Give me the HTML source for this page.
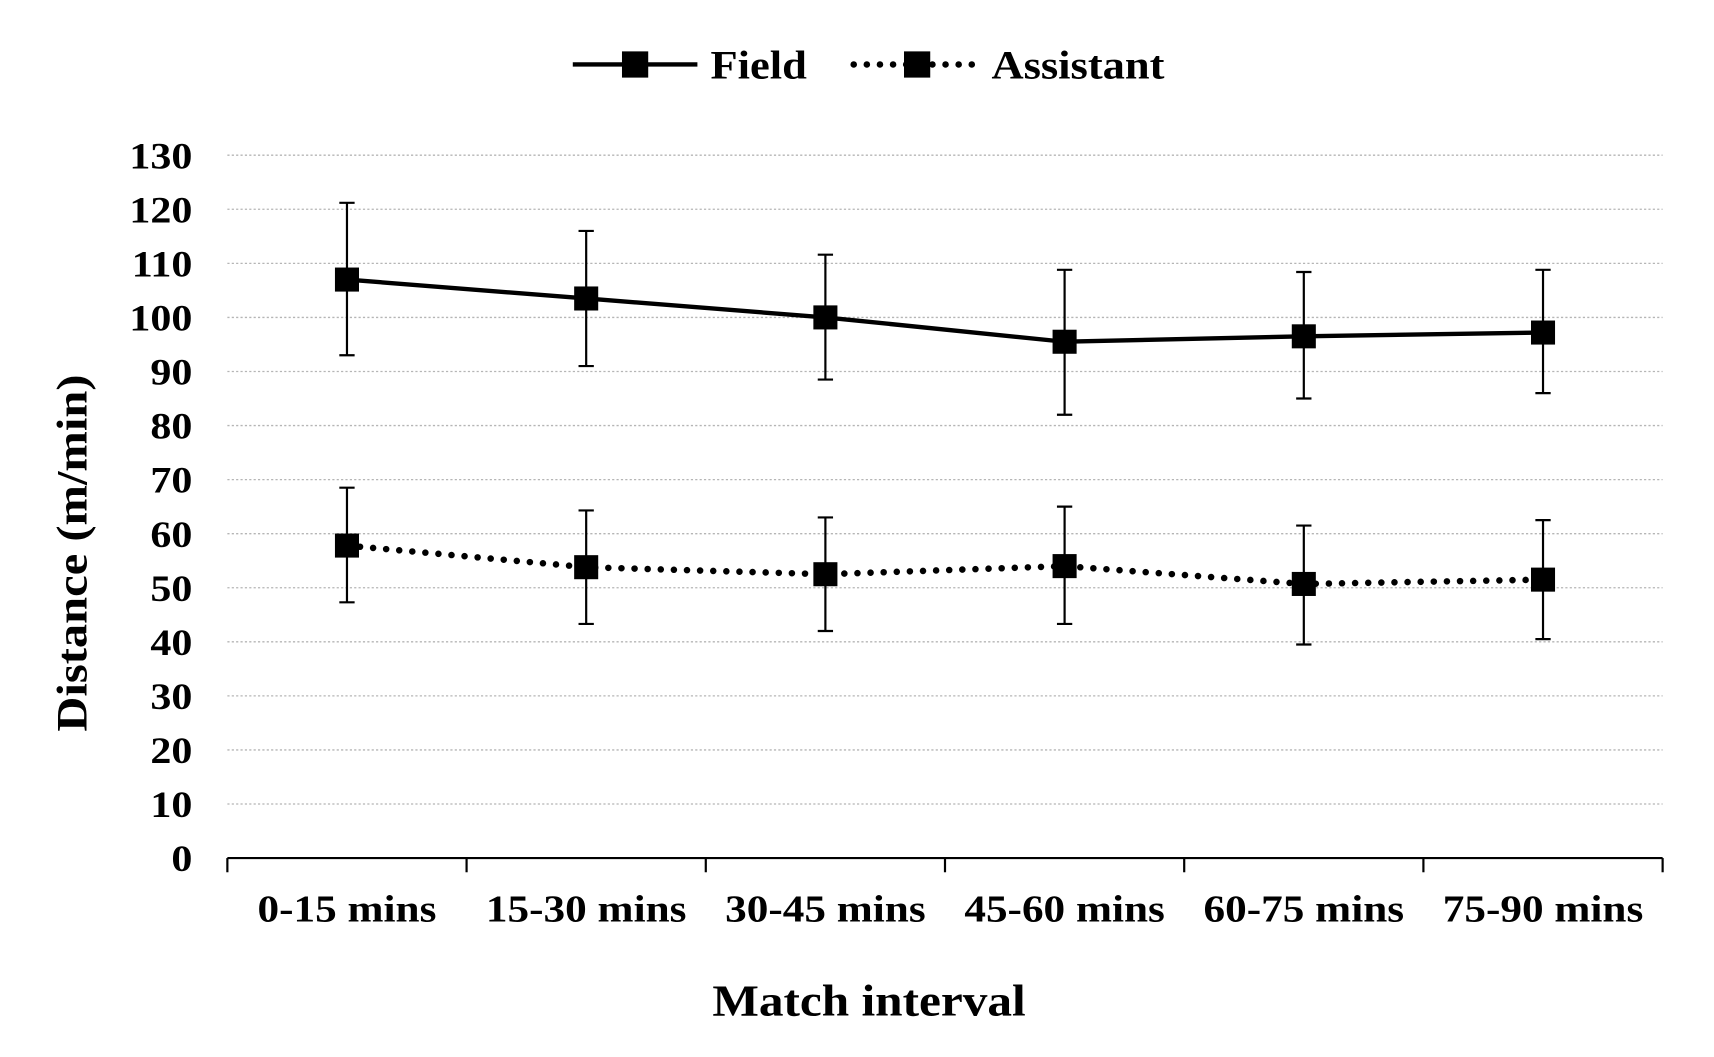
<!DOCTYPE html>
<html><head><meta charset="utf-8"><style>
html,body{margin:0;padding:0;background:#fff;}
svg{display:block;}
text{font-family:"Liberation Serif",serif;font-weight:bold;fill:#000;}
</style></head><body>
<svg id="chart" width="1714" height="1057" viewBox="0 0 1568 967" preserveAspectRatio="none" xmlns="http://www.w3.org/2000/svg">
<g id="grid"></g>
<g id="axes"></g>
<g id="series"></g>
<text class="st" data-k="1.11" font-size="40" text-anchor="middle" transform="translate(79 506) rotate(-90)">Distance (m/min)</text>
<text class="st" data-k="1.10" x="795" y="929" font-size="41" text-anchor="middle">Match interval</text>
<g>
<g>
<line x1="524" y1="59" x2="638" y2="59" stroke="#000" stroke-width="4"/>
<rect x="569" y="47" width="24" height="24" fill="#000"/>
<text class="st" data-k="1.10" x="650" y="72" font-size="37">Field</text></g>
<g>
<line x1="781" y1="59" x2="897" y2="59" stroke="#000" stroke-width="6" stroke-dasharray="0 12" stroke-linecap="round"/>
<rect x="827" y="47" width="24" height="24" fill="#000"/>
<text class="st" data-k="1.10" x="907" y="72" font-size="37">Assistant</text></g>
</g>
</svg>
<script>
const categories=["0-15 mins","15-30 mins","30-45 mins","45-60 mins","60-75 mins","75-90 mins"];
const fieldMean=[107,103.5,100,95.5,96.5,97.2];
const fieldUpper=[121.2,116,111.6,108.8,108.4,108.8];
const fieldLower=[93,91,88.5,82,85,86];
const assistMean=[57.8,53.8,52.5,54,50.7,51.5];
const assistUpper=[68.5,64.3,63,65,61.5,62.5];
const assistLower=[47.3,43.3,42,43.3,39.5,40.5];
const yTicks=[0,10,20,30,40,50,60,70,80,90,100,110,120,130];
const NS="http://www.w3.org/2000/svg";
const X0=208,X1=1521,Y0=785,Y1=142;
const band=(X1-X0)/categories.length;
const xs=i=>X0+band*(i+0.5);
const ys=v=>Y0-(v/130)*(Y0-Y1);
function mk(parent,tag,attrs){const e=document.createElementNS(NS,tag);for(const k in attrs)e.setAttribute(k,attrs[k]);parent.appendChild(e);return e;}
const grid=document.getElementById('grid'),axes=document.getElementById('axes'),series=document.getElementById('series');
yTicks.forEach(t=>{
 if(t>0){const g=mk(grid,'line',{x1:X0,x2:X1,y1:ys(t),y2:ys(t),stroke:'#b5b5b5','stroke-width':1.2,'stroke-dasharray':'2 2'});
 
 }
 const tx=mk(axes,'text',{x:176,y:ys(t)+12,'font-size':34,'text-anchor':'end','class':'st','data-k':'1.13'});tx.textContent=t;
 
 
});
const ax=mk(axes,'line',{x1:X0,x2:X1,y1:Y0,y2:Y0,stroke:'#000','stroke-width':2});


for(let i=0;i<=categories.length;i++){const tk=mk(axes,'line',{x1:X0+band*i,x2:X0+band*i,y1:Y0,y2:Y0+13,stroke:'#000','stroke-width':2});
 
 }
categories.forEach((c,i)=>{const t=mk(axes,'text',{x:xs(i),y:843,'font-size':35,'text-anchor':'middle','class':'st','data-k':'1.13'});t.textContent=c;
 
 });
function draw(mean,up,lo,dotted,name){
 const pts=mean.map((v,i)=>xs(i)+','+ys(v)).join(' ');
 const pl=mk(series,'polyline',{points:pts,fill:'none',stroke:'#000','stroke-width':dotted?6:4,'stroke-dasharray':dotted?'0 12':'none','stroke-linecap':'round'});
 
 
 mean.forEach((v,i)=>{
  const x=xs(i);
  const eb=mk(series,'path',{d:`M${x},${ys(up[i])}V${ys(lo[i])}M${x-7},${ys(up[i])}H${x+7}M${x-7},${ys(lo[i])}H${x+7}`,stroke:'#000','stroke-width':2,fill:'none'});
  
  
  const m=mk(series,'rect',{x:x-11,y:ys(v)-11,width:22,height:22,fill:'#000'});
  
  
 });
}
draw(fieldMean,fieldUpper,fieldLower,false,'field');
draw(assistMean,assistUpper,assistLower,true,'assistant');
document.querySelectorAll('text.st').forEach(t=>{
 const k=parseFloat(t.getAttribute('data-k'));
 const w=t.getComputedTextLength();
 t.setAttribute('textLength',w*k);
 t.setAttribute('lengthAdjust','spacingAndGlyphs');
});
</script>
</body></html>
